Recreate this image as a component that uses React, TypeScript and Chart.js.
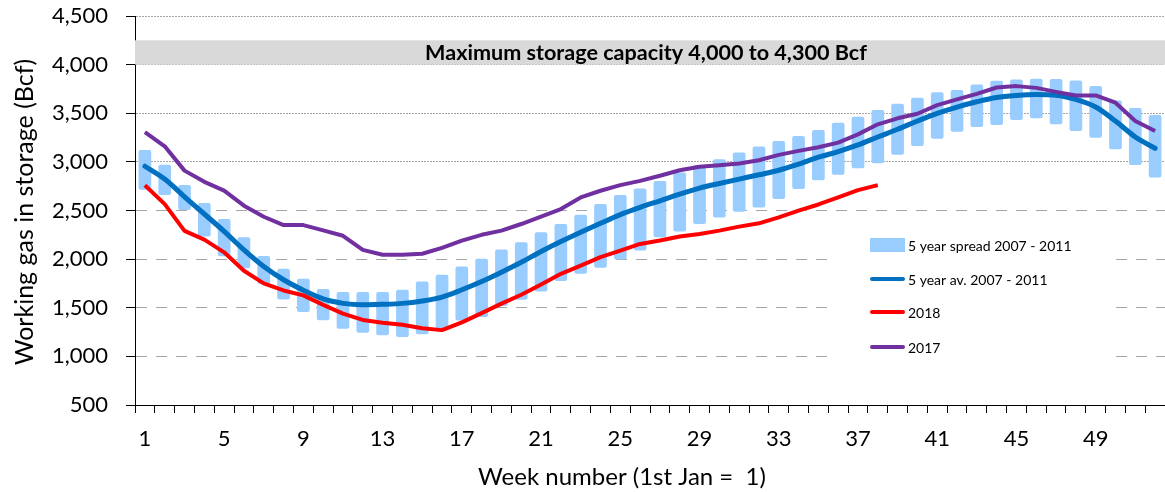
import { useEffect, useRef } from 'react';
import { Chart, registerables } from 'chart.js';

Chart.register(...registerables);

const weeks = ['1','2','3','4','5','6','7','8','9','10','11','12','13','14','15','16','17','18','19','20','21','22','23','24','25','26','27','28','29','30','31','32','33','34','35','36','37','38','39','40','41','42','43','44','45','46','47','48','49','50','51','52'];
const xTickLabels = ['1','5','9','13','17','21','25','29','33','37','41','45','49'];
const yTicks = [500, 1000, 1500, 2000, 2500, 3000, 3500, 4000, 4500];

const spreadLow = [2713, 2660, 2505, 2232, 2030, 1907, 1745, 1585, 1456, 1371, 1285, 1244, 1217, 1200, 1227, 1290, 1370, 1405, 1517, 1582, 1668, 1774, 1849, 1911, 1996, 2088, 2225, 2283, 2361, 2429, 2488, 2532, 2617, 2720, 2812, 2867, 2935, 2987, 3072, 3164, 3239, 3311, 3359, 3378, 3430, 3448, 3386, 3318, 3249, 3129, 2969, 2839];
const spreadHigh = [3123, 2970, 2761, 2576, 2413, 2225, 2033, 1900, 1798, 1692, 1661, 1661, 1661, 1685, 1770, 1839, 1924, 2005, 2098, 2173, 2276, 2361, 2457, 2566, 2659, 2727, 2803, 2890, 2966, 3027, 3096, 3157, 3215, 3266, 3328, 3403, 3465, 3533, 3598, 3659, 3717, 3738, 3795, 3833, 3846, 3856, 3853, 3836, 3779, 3632, 3553, 3482];
const avg5yr = [2955, 2823, 2641, 2464, 2286, 2095, 1924, 1788, 1680, 1590, 1545, 1530, 1535, 1545, 1570, 1610, 1685, 1770, 1866, 1968, 2078, 2180, 2276, 2368, 2457, 2532, 2600, 2668, 2730, 2778, 2823, 2867, 2914, 2976, 3048, 3106, 3174, 3256, 3335, 3420, 3499, 3564, 3618, 3662, 3683, 3693, 3686, 3642, 3564, 3420, 3256, 3140];
const y2018 = [2760, 2566, 2290, 2200, 2070, 1880, 1750, 1678, 1627, 1530, 1440, 1375, 1345, 1325, 1290, 1270, 1350, 1445, 1542, 1634, 1740, 1849, 1934, 2020, 2088, 2156, 2191, 2232, 2259, 2293, 2334, 2368, 2429, 2498, 2562, 2634, 2710, 2761];
const y2017 = [3305, 3160, 2910, 2795, 2705, 2550, 2436, 2350, 2350, 2295, 2240, 2095, 2045, 2045, 2055, 2115, 2190, 2250, 2293, 2361, 2437, 2515, 2634, 2703, 2761, 2805, 2857, 2914, 2949, 2965, 2983, 3017, 3072, 3113, 3150, 3198, 3283, 3386, 3448, 3495, 3584, 3642, 3700, 3765, 3779, 3761, 3720, 3683, 3683, 3608, 3420, 3318];

const capacityBottom = 4000;
const capacityTop = 4250;
const capacityLabel = 'Maximum storage capacity 4,000 to 4,300 Bcf';
const xTitle = 'Week number (1st Jan =  1)';
const yTitle = 'Working gas in storage (Bcf)';

const seriesLabels = ['5 year spread 2007 - 2011', '5 year av. 2007 - 2011', '2018', '2017'];
const seriesColors = ['#99CCFF', '#0070C0', '#FF0000', '#7030A0'];

const FONT = 'Lato';

const overlayPlugin = {
  id: 'overlay',
  beforeDatasetsDraw(chart: any) {
    const { ctx, chartArea, scales } = chart;
    const y = scales.y;
    const top = y.getPixelForValue(capacityTop);
    const bottom = y.getPixelForValue(capacityBottom);
    ctx.save();
    ctx.fillStyle = '#D9D9D9';
    ctx.fillRect(chartArea.left, top, chartArea.right - chartArea.left, bottom - top);
    ctx.font = `bold 21.6px ${FONT}`;
    ctx.fillStyle = '#000';
    ctx.textAlign = 'center';
    ctx.textBaseline = 'middle';
    ctx.fillText(capacityLabel, 646, (top + bottom) / 2 + 1);
    ctx.restore();
  },
  afterDraw(chart: any) {
    const { ctx } = chart;
    ctx.save();
    ctx.fillStyle = '#FFFFFF';
    ctx.fillRect(830, 225, 280, 145);
    const rows = [245, 279, 312, 347];
    ctx.font = `14px ${FONT}`;
    ctx.textAlign = 'left';
    ctx.textBaseline = 'middle';
    seriesLabels.forEach((label, i) => {
      const cy = rows[i];
      if (i === 0) {
        ctx.fillStyle = seriesColors[0];
        ctx.fillRect(870, cy - 7, 35, 14);
      } else {
        ctx.strokeStyle = seriesColors[i];
        ctx.lineWidth = 4;
        ctx.lineCap = 'round';
        ctx.beginPath();
        ctx.moveTo(872, cy);
        ctx.lineTo(903, cy);
        ctx.stroke();
      }
      ctx.fillStyle = '#000';
      ctx.fillText(label, 908, cy + 1);
    });
    // axis titles
    ctx.fillStyle = '#000';
    ctx.font = `24px ${FONT}`;
    ctx.textAlign = 'center';
    ctx.textBaseline = 'middle';
    ctx.fillText(xTitle, 622, 477);
    ctx.translate(25, 212);
    ctx.rotate(-Math.PI / 2);
    ctx.font = `25px ${FONT}`;
    ctx.fillText(yTitle, 0, 0);
    ctx.restore();
  },
};

export default function App() {
  const canvasRef = useRef<HTMLCanvasElement | null>(null);

  useEffect(() => {
    if (!canvasRef.current) return;
    const chart = new Chart(canvasRef.current, {
      type: 'bar',
      data: {
        labels: weeks,
        datasets: [
          {
            type: 'line',
            label: seriesLabels[3],
            data: y2017,
            borderColor: seriesColors[3],
            backgroundColor: seriesColors[3],
            borderWidth: 4,
            pointRadius: 0,
            tension: 0,
            borderJoinStyle: 'round',
            order: 0,
          } as any,
          {
            type: 'line',
            label: seriesLabels[2],
            data: y2018,
            borderColor: seriesColors[2],
            backgroundColor: seriesColors[2],
            borderWidth: 4,
            pointRadius: 0,
            tension: 0,
            borderJoinStyle: 'round',
            order: 1,
          },
          {
            type: 'line',
            label: seriesLabels[1],
            data: avg5yr,
            borderColor: seriesColors[1],
            backgroundColor: seriesColors[1],
            borderWidth: 5,
            pointRadius: 0,
            cubicInterpolationMode: 'monotone',
            borderCapStyle: 'round',
            order: 2,
          },
          {
            type: 'bar',
            label: seriesLabels[0],
            data: spreadLow.map((lo, i) => [lo, spreadHigh[i]]),
            backgroundColor: seriesColors[0],
            borderWidth: 0,
            borderRadius: 2,
            borderSkipped: false,
            barPercentage: 0.64,
            categoryPercentage: 1,
            order: 3,
          },
        ],
      },
      options: {
        responsive: false,
        animation: false,
        events: [],
        layout: { padding: { top: 16, right: 0, left: 0, bottom: 0 } },
        plugins: {
          legend: { display: false },
          tooltip: { enabled: false },
        },
        scales: {
          x: {
            type: 'category',
            offset: true,
            grid: {
              display: true,
              drawOnChartArea: false,
              drawTicks: true,
              tickLength: 8,
              color: '#000',
              tickColor: '#000',
              offset: true,
            },
            border: { display: true, color: '#000', width: 1 },
            ticks: {
              autoSkip: false,
              maxRotation: 0,
              minRotation: 0,
              padding: 13,
              color: '#000',
              font: { family: FONT, size: 22 },
              callback: (_v: any, i: number) => (xTickLabels.includes(weeks[i]) ? weeks[i] : ''),
            },
            title: { display: false },
            afterFit: (scale: any) => {
              scale.height = 87;
              scale.paddingLeft = 0;
              scale.paddingRight = 0;
            },
          },
          y: {
            type: 'linear',
            min: 500,
            max: 4500,
            afterBuildTicks: (scale: any) => { scale.ticks = yTicks.map((v) => ({ value: v })); },
            grid: {
              display: true,
              drawTicks: true,
              tickLength: 9,
              tickColor: '#000',
              color: (c: any) => (c.tick && c.tick.value === 500 ? '#000' : '#A6A6A6'),
            },
            border: {
              display: true,
              color: '#000',
              width: 1,
              dash: (c: any) => {
                if (!c.tick) return [];
                if (c.tick.value === 500) return [];
                return c.tick.value >= 3000 ? [2, 1] : [11, 9];
              },
            },
            ticks: {
              padding: 18,
              color: '#000',
              font: { family: FONT, size: 22 },
              callback: (v: any) => Number(v).toLocaleString('en-US'),
            },
            title: { display: false },
            afterFit: (scale: any) => {
              scale.width = 135;
              scale.paddingTop = 0;
              scale.paddingBottom = 0;
            },
          },
        },
      } as any,
      plugins: [overlayPlugin],
    });
    return () => chart.destroy();
  }, []);

  return (
    <div style={{ position: 'fixed', left: 0, top: 0, width: 1165, height: 492, background: '#fff' }}>
      <canvas ref={canvasRef} width={1165} height={492} style={{ display: 'block' }} />
    </div>
  );
}
